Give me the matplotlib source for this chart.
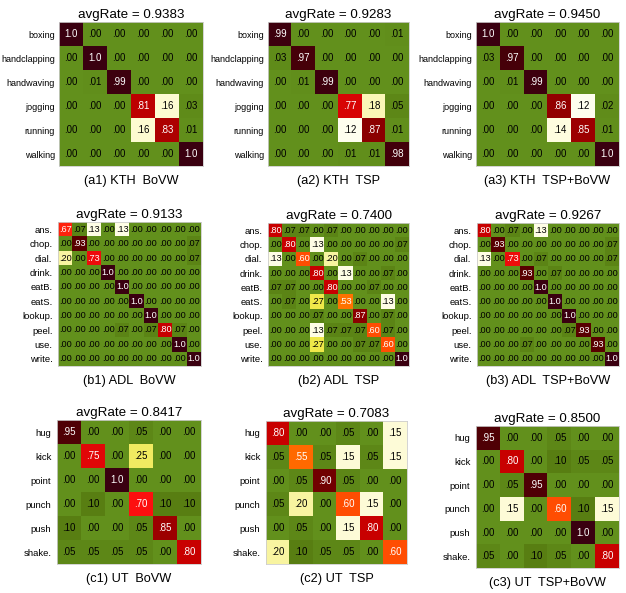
import matplotlib.pyplot as plt
import numpy as np
from matplotlib.colors import LinearSegmentedColormap

plt.rcParams['font.family'] = ['Liberation Sans', 'DejaVu Sans']

kth_labels = ["boxing", "handclapping", "handwaving", "jogging", "running", "walking"]
adl_labels = ["ans.", "chop.", "dial.", "drink.", "eatB.", "eatS.", "lookup.", "peel.", "use.", "write."]
ut_labels = ["hug", "kick", "point", "punch", "push", "shake."]

kth_bovw = [[1.0, 0, 0, 0, 0, 0],
            [0, 1.0, 0, 0, 0, 0],
            [0, .01, .99, 0, 0, 0],
            [0, 0, 0, .81, .16, .03],
            [0, 0, 0, .16, .83, .01],
            [0, 0, 0, 0, 0, 1.0]]
kth_tsp = [[.99, 0, 0, 0, 0, .01],
           [.03, .97, 0, 0, 0, 0],
           [0, .01, .99, 0, 0, 0],
           [0, 0, 0, .77, .18, .05],
           [0, 0, 0, .12, .87, .01],
           [0, 0, 0, .01, .01, .98]]
kth_both = [[1.0, 0, 0, 0, 0, 0],
            [.03, .97, 0, 0, 0, 0],
            [0, .01, .99, 0, 0, 0],
            [0, 0, 0, .86, .12, .02],
            [0, 0, 0, .14, .85, .01],
            [0, 0, 0, 0, 0, 1.0]]

adl_bovw = [[.67, .07, .13, 0, .13, 0, 0, 0, 0, 0],
            [0, .93, 0, 0, 0, 0, 0, 0, 0, .07],
            [.20, 0, .73, 0, 0, 0, 0, 0, 0, .07],
            [0, 0, 0, 1, 0, 0, 0, 0, 0, 0],
            [0, 0, 0, 0, 1, 0, 0, 0, 0, 0],
            [0, 0, 0, 0, 0, 1, 0, 0, 0, 0],
            [0, 0, 0, 0, 0, 0, 1, 0, 0, 0],
            [0, 0, 0, 0, .07, 0, .07, .80, .07, 0],
            [0, 0, 0, 0, 0, 0, 0, 0, 1, 0],
            [0, 0, 0, 0, 0, 0, 0, 0, 0, 1]]
adl_tsp = [[.80, .07, .07, 0, .07, 0, 0, 0, 0, 0],
           [0, .80, 0, .13, 0, 0, 0, 0, 0, .07],
           [.13, 0, .60, 0, .20, 0, .07, 0, 0, 0],
           [0, 0, 0, .80, 0, .13, 0, 0, .07, 0],
           [.07, .07, 0, 0, .80, 0, 0, .07, 0, 0],
           [0, .07, 0, .27, 0, .53, 0, 0, .13, 0],
           [0, 0, 0, .07, 0, 0, .87, 0, .07, 0],
           [0, 0, 0, .13, .07, .07, .07, .60, .07, 0],
           [0, 0, 0, .27, 0, 0, .07, .07, .60, 0],
           [0, 0, 0, 0, 0, 0, 0, 0, 0, 1]]
adl_both = [[.80, 0, .07, 0, .13, 0, 0, 0, 0, 0],
            [0, .93, 0, 0, 0, 0, 0, 0, 0, .07],
            [.13, 0, .73, 0, .07, 0, 0, 0, 0, .07],
            [0, 0, 0, .93, 0, .07, 0, 0, 0, 0],
            [0, 0, 0, 0, 1, 0, 0, 0, 0, 0],
            [0, 0, 0, 0, 0, 1, 0, 0, 0, 0],
            [0, 0, 0, 0, 0, 0, 1, 0, 0, 0],
            [0, 0, 0, 0, 0, 0, .07, .93, 0, 0],
            [0, 0, 0, .07, 0, 0, 0, 0, .93, 0],
            [0, 0, 0, 0, 0, 0, 0, 0, 0, 1]]

ut_bovw = [[.95, 0, 0, .05, 0, 0],
           [0, .75, 0, .25, 0, 0],
           [0, 0, 1, 0, 0, 0],
           [0, .10, 0, .70, .10, .10],
           [.10, 0, 0, .05, .85, 0],
           [.05, .05, .05, .05, 0, .80]]
ut_tsp = [[.80, 0, 0, .05, 0, .15],
          [.05, .55, .05, .15, .05, .15],
          [0, .05, .90, .05, 0, 0],
          [.05, .20, 0, .60, .15, 0],
          [0, .05, 0, .15, .80, 0],
          [.20, .10, .05, .05, 0, .60]]
ut_both = [[.95, 0, 0, .05, 0, 0],
           [0, .80, 0, .10, .05, .05],
           [0, .05, .95, 0, 0, 0],
           [0, .15, 0, .60, .10, .15],
           [0, 0, 0, 0, 1, 0],
           [.05, 0, .10, .05, 0, .80]]

avg_rates = [0.9383, 0.9283, 0.9450, 0.9133, 0.7400, 0.9267, 0.8417, 0.7083, 0.8500]
captions = ["(a1) KTH  BoVW", "(a2) KTH  TSP", "(a3) KTH  TSP+BoVW",
            "(b1) ADL  BoVW", "(b2) ADL  TSP", "(b3) ADL  TSP+BoVW",
            "(c1) UT  BoVW", "(c2) UT  TSP", "(c3) UT  TSP+BoVW"]

matrices = [kth_bovw, kth_tsp, kth_both, adl_bovw, adl_tsp, adl_both, ut_bovw, ut_tsp, ut_both]
labels = [kth_labels] * 3 + [adl_labels] * 3 + [ut_labels] * 3

# pixel boxes of each matrix (left, top, right, bottom)
boxes = [(59, 22, 203, 166), (268, 22, 409, 166), (476, 22, 619, 166),
         (58, 222, 201, 366), (268, 223, 409, 366), (477, 223, 619, 366),
         (57, 420, 201, 564), (266, 421, 407, 564), (476, 426, 619, 568)]

cmap = LinearSegmentedColormap.from_list("conf", [
    (0.0, "#62901c"), (0.10, "#587e12"), (0.115, "#fffff0"), (0.16, "#fdfbcf"),
    (0.20, "#f8f4a0"), (0.27, "#efe94a"), (0.45, "#ff9a00"), (0.58, "#ff5a00"),
    (0.70, "#ff1010"), (0.80, "#c80000"), (0.87, "#8c0000"), (0.93, "#5a0000"),
    (1.0, "#3a0010")])

W, H = 626, 593
fig = plt.figure(figsize=(W / 100, H / 100), dpi=100)

for k in range(9):
    m = np.array(matrices[k])
    l, t, r, b = boxes[k]
    ax = fig.add_axes([l / W, 1 - b / H, (r - l) / W, (b - t) / H])
    ax.imshow(m, cmap=cmap, vmin=0, vmax=1, aspect='auto', interpolation='nearest')
    n = m.shape[0]
    fs = 7 if n == 6 else 6.6
    for i in range(n):
        for j in range(n):
            v = m[i, j]
            txt = "1.0" if v >= 0.995 else f"{v:.2f}"[1:]
            col = 'white' if v > 0.45 else 'black'
            ax.text(j, i, txt, ha='center', va='center', fontsize=fs, color=col)
    ax.set_xticks([])
    ax.set_yticks(range(n))
    ax.set_yticklabels(labels[k], fontsize=6.8 if k >= 3 else 6.5)
    ax.tick_params(axis='y', length=0, pad=4 if k >= 3 else 3)
    for s in ax.spines.values():
        s.set_color('#cccccc')
        s.set_linewidth(0.6)
    ax.set_title(f"avgRate = {avg_rates[k]:.4f}", fontsize=9.6, pad=3)
    ax.text(0.5, -0.065, captions[k], transform=ax.transAxes, ha='center', va='top',
            fontsize=9.2)

plt.savefig("out.png", dpi=100)
